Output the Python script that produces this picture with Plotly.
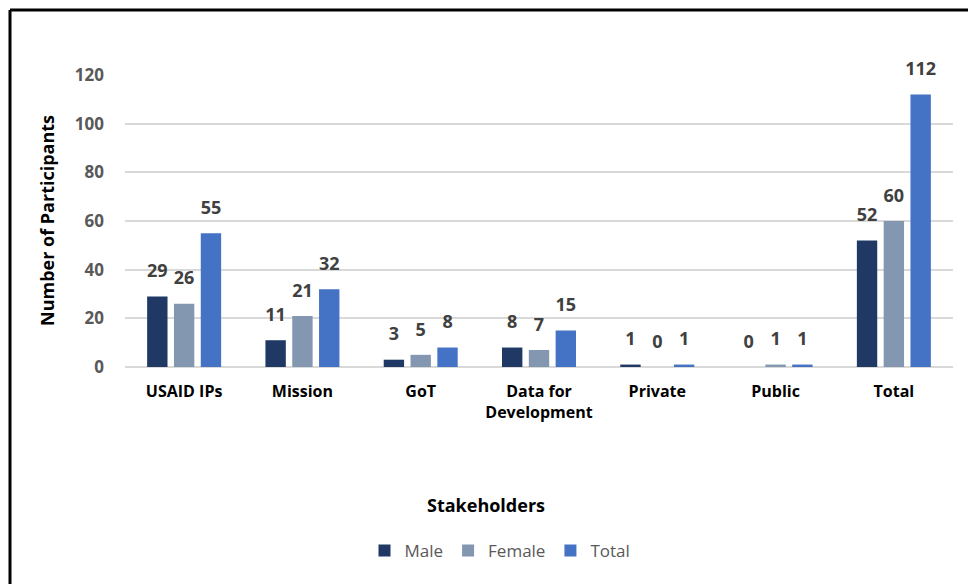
import plotly.graph_objects as go

categories = ["USAID IPs", "Mission", "GoT", "Data for<br>Development", "Private", "Public", "Total"]
male = [29, 11, 3, 8, 1, 0, 52]
female = [26, 21, 5, 7, 0, 1, 60]
total = [55, 32, 8, 15, 1, 1, 112]
series_names = ["Male", "Female", "Total"]
series_colors = ["#203864", "#8497B0", "#4472C4"]
y_ticks = [0, 20, 40, 60, 80, 100, 120]

W, H = 968, 584
L, R, T, B = 125, 15, 75, 217
pw, ph = W - L - R, H - T - B

def px_to_paper_x(px):
    return (px - L) / pw

def px_to_paper_y(py):
    return 1 - (py - T) / ph

fig = go.Figure()
for name, vals, col, og in zip(series_names, [male, female, total], series_colors, ["m", "f", "t"]):
    fig.add_trace(go.Bar(
        x=categories, y=vals, name=name, marker=dict(color=col, line=dict(width=0)),
        offsetgroup=og, alignmentgroup="a",
    ))
for name, vals, og in zip(series_names, [male, female, total], ["m", "f", "t"]):
    fig.add_trace(go.Scatter(
        x=categories, y=vals, mode="markers+text", text=[str(v) for v in vals],
        textposition="top center", marker=dict(size=22, opacity=0),
        textfont=dict(family="Open Sans", size=18, color="#404040", weight="bold"),
        offsetgroup=og, alignmentgroup="a", showlegend=False, hoverinfo="skip",
        cliponaxis=False,
    ))

fig.update_layout(
    width=W, height=H,
    margin=dict(l=L, r=R, t=T, b=B, autoexpand=False),
    paper_bgcolor="white", plot_bgcolor="white",
    barmode="group", bargap=0.32, bargroupgap=0.24,
    scattermode="group", scattergap=0.32,
    font=dict(family="Open Sans"),
    showlegend=True,
    legend=dict(orientation="h", x=px_to_paper_x(500), xanchor="center",
                y=px_to_paper_y(551), yanchor="middle",
                font=dict(family="Open Sans", size=17, color="#595959"),
                itemclick=False),
    xaxis=dict(showgrid=False, showline=False, ticks="",
               tickfont=dict(family="Open Sans", size=16, color="#000000", weight="bold"),
               ticklabelstandoff=13, fixedrange=True),
    yaxis=dict(range=[0, 120], tickvals=y_ticks, showgrid=True, gridcolor="#D9D9D9", gridwidth=1.5,
               zeroline=True, zerolinecolor="#D9D9D9", zerolinewidth=1.5, showline=False, ticks="",
               tickfont=dict(family="Open Sans", size=17, color="#595959", weight="bold"),
               ticklabelstandoff=20, fixedrange=True),
    annotations=[
        dict(text="<b>Number of Participants</b>", xref="paper", yref="paper",
             x=px_to_paper_x(47), y=px_to_paper_y(221), textangle=-90, showarrow=False,
             font=dict(family="Open Sans", size=18, color="#000000"),
             xanchor="center", yanchor="middle"),
        dict(text="<b>Stakeholders</b>", xref="paper", yref="paper",
             x=px_to_paper_x(486), y=px_to_paper_y(505), showarrow=False,
             font=dict(family="Open Sans", size=18, color="#000000"),
             xanchor="center", yanchor="middle"),
    ],
    shapes=[
        dict(type="line", xref="paper", yref="paper",
             x0=px_to_paper_x(10), x1=px_to_paper_x(1000), y0=px_to_paper_y(10), y1=px_to_paper_y(10),
             line=dict(color="black", width=3)),
        dict(type="line", xref="paper", yref="paper",
             x0=px_to_paper_x(10), x1=px_to_paper_x(10), y0=px_to_paper_y(10), y1=px_to_paper_y(620),
             line=dict(color="black", width=3)),
    ],
)

fig.write_html("out.html", config={"displayModeBar": False})
